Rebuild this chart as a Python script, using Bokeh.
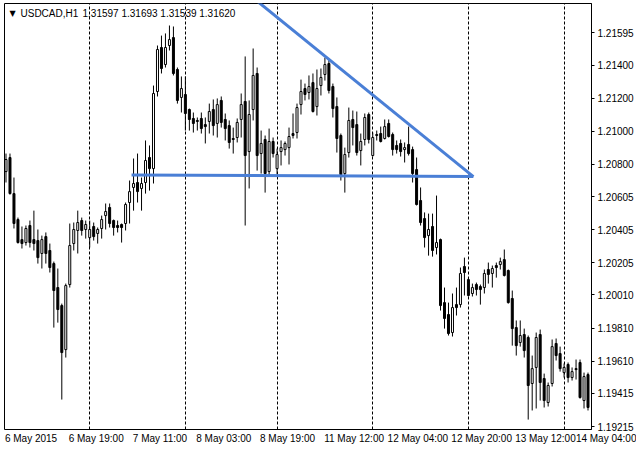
from bokeh.plotting import figure
from bokeh.models import (ColumnDataSource, FixedTicker, PrintfTickFormatter, Label, Grid,
                          Range1d, CustomJSTickFormatter)
from bokeh.embed import file_html
from bokeh.resources import INLINE

# ---- data (USDCAD H1 candles, bar index 0 = 6 May 2015 03:00) ----
OPEN = [1.20756, 1.20841, 1.20623, 1.20466, 1.20345, 1.20327, 1.20430, 1.20345, 1.20339, 1.20261,
        1.20363, 1.20279, 1.20200, 1.20055, 1.19946, 1.19680, 1.20073, 1.20321, 1.20400, 1.20460,
        1.20406, 1.20357, 1.20424, 1.20382, 1.20412, 1.20490, 1.20539, 1.20460, 1.20430, 1.20436,
        1.20442, 1.20569, 1.20660, 1.20690, 1.20654, 1.20690, 1.20841, 1.20774, 1.21240, 1.21506,
        1.21403, 1.21518, 1.21566, 1.21373, 1.21204, 1.21222, 1.21131, 1.21077, 1.21065, 1.21077,
        1.21040, 1.21059, 1.21131, 1.21047, 1.21186, 1.21071, 1.21034, 1.20956, 1.20962, 1.21071,
        1.21180, 1.20877, 1.21131, 1.21349, 1.20865, 1.20950, 1.20756, 1.20938, 1.20774, 1.20877,
        1.20889, 1.20901, 1.20986, 1.20992, 1.21161, 1.21258, 1.21234, 1.21294, 1.21149, 1.21276,
        1.21343, 1.21409, 1.21270, 1.21149, 1.20974, 1.20744, 1.20871, 1.21071, 1.21040, 1.20883,
        1.20950, 1.21101, 1.20853, 1.20980, 1.20986, 1.20956, 1.21047, 1.20980, 1.20914, 1.20926,
        1.20889, 1.20920, 1.20889, 1.20768, 1.20581, 1.20472, 1.20369, 1.20424, 1.20297, 1.20345,
        1.19964, 1.19892, 1.19783, 1.19952, 1.19952, 1.20182, 1.20103, 1.20019, 1.20073, 1.20061,
        1.20055, 1.20164, 1.20140, 1.20188, 1.20194, 1.20224, 1.20158, 1.19989, 1.19813, 1.19723,
        1.19771, 1.19753, 1.19475, 1.19572, 1.19771, 1.19505, 1.19360, 1.19475, 1.19717, 1.19656,
        1.19541, 1.19590, 1.19511, 1.19565, 1.19602, 1.19372, 1.19529]
HIGH = [1.20865, 1.20865, 1.20720, 1.20478, 1.20424, 1.20430, 1.20460, 1.20520, 1.20406, 1.20369,
        1.20388, 1.20321, 1.20212, 1.20170, 1.19958, 1.20079, 1.20442, 1.20448, 1.20520, 1.20478,
        1.20460, 1.20460, 1.20448, 1.20418, 1.20490, 1.20563, 1.20563, 1.20466, 1.20460, 1.20442,
        1.20569, 1.20702, 1.20835, 1.20865, 1.20720, 1.20944, 1.20914, 1.21276, 1.21518, 1.21578,
        1.21591, 1.21639, 1.21633, 1.21385, 1.21331, 1.21331, 1.21137, 1.21113, 1.21083, 1.21113,
        1.21083, 1.21167, 1.21192, 1.21198, 1.21210, 1.21107, 1.21065, 1.21022, 1.21077, 1.21228,
        1.21452, 1.21186, 1.21500, 1.21385, 1.21004, 1.20974, 1.21016, 1.20962, 1.20895, 1.20944,
        1.20938, 1.21022, 1.21107, 1.21167, 1.21312, 1.21288, 1.21337, 1.21349, 1.21373, 1.21379,
        1.21445, 1.21439, 1.21288, 1.21204, 1.20986, 1.20901, 1.21143, 1.21125, 1.21119, 1.20986,
        1.21107, 1.21113, 1.20992, 1.21004, 1.21028, 1.21071, 1.21071, 1.20992, 1.20944, 1.20950,
        1.20932, 1.21028, 1.20907, 1.20841, 1.20660, 1.20509, 1.20502, 1.20502, 1.20611, 1.20351,
        1.20055, 1.19964, 1.20019, 1.20055, 1.20176, 1.20236, 1.20115, 1.20079, 1.20085, 1.20073,
        1.20164, 1.20206, 1.20188, 1.20206, 1.20236, 1.20285, 1.20164, 1.20037, 1.19856, 1.19856,
        1.19807, 1.19765, 1.19644, 1.19783, 1.19801, 1.19535, 1.19481, 1.19741, 1.19747, 1.19698,
        1.19596, 1.19602, 1.19572, 1.19620, 1.19620, 1.19541, 1.19541]
LOW = [1.20690, 1.20617, 1.20412, 1.20321, 1.20291, 1.20309, 1.20297, 1.20279, 1.20200, 1.20170,
       1.20200, 1.20146, 1.19813, 1.19843, 1.19378, 1.19632, 1.20055, 1.20279, 1.20261, 1.20369,
       1.20351, 1.20297, 1.20339, 1.20321, 1.20351, 1.20406, 1.20418, 1.20369, 1.20388, 1.20327,
       1.20400, 1.20442, 1.20520, 1.20569, 1.20520, 1.20623, 1.20641, 1.20684, 1.21210, 1.21349,
       1.21385, 1.21488, 1.21337, 1.21167, 1.21113, 1.21004, 1.21004, 1.20992, 1.21004, 1.20986,
       1.20926, 1.20986, 1.20974, 1.20962, 1.21022, 1.20944, 1.20895, 1.20865, 1.20932, 1.20962,
       1.20430, 1.20654, 1.21065, 1.20762, 1.20744, 1.20629, 1.20732, 1.20841, 1.20738, 1.20793,
       1.20853, 1.20799, 1.20956, 1.20956, 1.21101, 1.21186, 1.21192, 1.21113, 1.21095, 1.21216,
       1.21306, 1.21228, 1.21083, 1.20871, 1.20702, 1.20629, 1.20841, 1.20914, 1.20853, 1.20793,
       1.20914, 1.20926, 1.20847, 1.20944, 1.20932, 1.20950, 1.20962, 1.20853, 1.20865, 1.20847,
       1.20811, 1.20853, 1.20690, 1.20551, 1.20430, 1.20297, 1.20248, 1.20242, 1.20255, 1.19916,
       1.19807, 1.19765, 1.19759, 1.19886, 1.19934, 1.20007, 1.20001, 1.20001, 1.20007, 1.19952,
       1.20019, 1.20079, 1.20055, 1.20115, 1.20164, 1.20122, 1.19958, 1.19704, 1.19644, 1.19698,
       1.19632, 1.19257, 1.19312, 1.19324, 1.19372, 1.19330, 1.19336, 1.19457, 1.19614, 1.19547,
       1.19511, 1.19481, 1.19493, 1.19499, 1.19384, 1.19324, 1.19312]
CLOSE = [1.20829, 1.20623, 1.20442, 1.20327, 1.20321, 1.20412, 1.20327, 1.20321, 1.20236, 1.20345,
         1.20261, 1.20176, 1.20037, 1.19922, 1.19662, 1.20067, 1.20309, 1.20406, 1.20448, 1.20400,
         1.20436, 1.20406, 1.20363, 1.20406, 1.20466, 1.20515, 1.20442, 1.20418, 1.20418, 1.20418,
         1.20557, 1.20635, 1.20684, 1.20635, 1.20684, 1.20823, 1.20774, 1.21228, 1.21494, 1.21379,
         1.21506, 1.21554, 1.21349, 1.21186, 1.21258, 1.21107, 1.21071, 1.21047, 1.21059, 1.21016,
         1.21028, 1.21119, 1.21034, 1.21161, 1.21053, 1.21016, 1.20932, 1.20950, 1.21053, 1.21161,
         1.20853, 1.21101, 1.21337, 1.20853, 1.20926, 1.20744, 1.20938, 1.20865, 1.20859, 1.20901,
         1.20926, 1.20968, 1.20974, 1.21143, 1.21240, 1.21222, 1.21270, 1.21119, 1.21258, 1.21325,
         1.21403, 1.21246, 1.21137, 1.20956, 1.20738, 1.20859, 1.21065, 1.21022, 1.20871, 1.20938,
         1.21083, 1.20950, 1.20962, 1.20974, 1.20938, 1.21028, 1.20968, 1.20889, 1.20889, 1.20877,
         1.20901, 1.20865, 1.20744, 1.20557, 1.20448, 1.20357, 1.20406, 1.20279, 1.20327, 1.19946,
         1.19868, 1.19777, 1.19934, 1.19934, 1.20140, 1.20146, 1.20007, 1.20055, 1.20043, 1.20043,
         1.20140, 1.20134, 1.20170, 1.20176, 1.20212, 1.20128, 1.19964, 1.19807, 1.19704, 1.19765,
         1.19674, 1.19463, 1.19565, 1.19753, 1.19481, 1.19372, 1.19463, 1.19698, 1.19644, 1.19565,
         1.19572, 1.19511, 1.19547, 1.19559, 1.19390, 1.19517, 1.19330]

PRICE_LABELS = ["1.21595", "1.21400", "1.21200", "1.21000", "1.20800", "1.20605", "1.20405",
                "1.20205", "1.20010", "1.19810", "1.19610", "1.19415", "1.19215"]
TIME_LABELS = ["6 May 2015", "6 May 19:00", "7 May 11:00", "8 May 03:00", "8 May 19:00",
               "11 May 12:00", "12 May 04:00", "12 May 20:00", "13 May 12:00", "14 May 04:00"]
TIME_LABEL_BARS = [0, 16, 32, 48, 64, 80, 96, 112, 128, 144]
DAY_START_BARS = [21, 45, 68, 92, 116, 140]

# trend lines drawn on the chart (bar index, price)
RESIST_BARS = [62, 117.25]
RESIST_PRICES = [1.21806, 1.20726]
SUPPORT_BARS = [31.5, 117.25]
SUPPORT_PRICES = [1.20735, 1.20726]

HEADER_SYMBOL = "USDCAD,H1"
HEADER_OHLC = "1.31597 1.31693 1.31539 1.31620"

# ---- figure geometry ----
W, H = 636, 453
TOP, BOTTOM, LEFT, RIGHT = 3, 24, 4, 43
FRAME_W = W - LEFT - RIGHT
FRAME_H = H - TOP - BOTTOM
X0, X1 = -0.375, 146.875
PX_PER_BAR = FRAME_W / (X1 - X0)
FONT = "Liberation Sans"
FONT_PX = 10
# Arial/Liberation advance widths (em) to left-align the time labels at their bar
ADV = {" ": 0.278, "\u00a0": 0.278, ":": 0.278, "M": 0.833, "a": 0.556, "y": 0.5}


def text_px(s):
    return sum(ADV.get(ch, 0.556) for ch in s) * FONT_PX


def bar_px(b):
    return (b - X0) * PX_PER_BAR


tick_pos = []
tick_text = []
for b, t in zip(TIME_LABEL_BARS, TIME_LABELS):
    start_px = bar_px(b) - 1           # terminal draws the label just right of its bar
    centre = b + (text_px(t) / 2 - 1) / PX_PER_BAR
    if centre < X1:
        tick_pos.append(centre)
        tick_text.append(t)
    else:
        # label runs past the frame: keep its tick at the frame edge and pad it on the left
        edge = X1 - 0.001
        pad_px = 2 * (start_px - bar_px(edge)) + text_px(t)
        n_pad = max(0, round(pad_px / (ADV["\u00a0"] * FONT_PX))) + 3
        tick_pos.append(edge)
        tick_text.append("\u00a0" * n_pad + t)

p = figure(width=W, height=H, output_backend="svg", toolbar_location=None,
           x_range=Range1d(X0, X1), y_range=Range1d(1.19197, 1.21772),
           x_axis_location="below", y_axis_location="right",
           min_border_left=LEFT, min_border_right=RIGHT,
           min_border_top=TOP, min_border_bottom=BOTTOM,
           background_fill_color="white", border_fill_color="white")
p.outline_line_color = "black"
p.outline_line_width = 1
p.xgrid.visible = False
p.ygrid.visible = False
p.add_layout(Grid(dimension=0, ticker=FixedTicker(ticks=DAY_START_BARS),
                  grid_line_color="black", grid_line_dash="3 2", grid_line_width=1))

xa = p.xaxis[0]
xa.ticker = FixedTicker(ticks=tick_pos)
xa.formatter = CustomJSTickFormatter(args=dict(pos=tick_pos, labels=tick_text), code="""
    let best = 0;
    for (let i = 0; i < pos.length; i++) {
        if (Math.abs(pos[i] - tick) < Math.abs(pos[best] - tick)) best = i;
    }
    return labels[best];
""")
xa.axis_line_color = None
xa.major_tick_line_color = None
xa.minor_tick_line_color = None
xa.major_tick_in = 0
xa.major_tick_out = 0
xa.major_label_standoff = 3
xa.major_label_text_font = FONT
xa.major_label_text_font_size = f"{FONT_PX}px"
xa.major_label_text_color = "black"

ya = p.yaxis[0]
ya.ticker = FixedTicker(ticks=[float(s) for s in PRICE_LABELS])
ya.formatter = PrintfTickFormatter(format="%.5f")
ya.major_tick_in = 0
ya.major_tick_out = 3
ya.minor_tick_line_color = None
ya.axis_line_color = "black"
ya.major_tick_line_color = "black"
ya.major_label_standoff = 3
ya.major_label_text_font = FONT
ya.major_label_text_font_size = f"{FONT_PX}px"
ya.major_label_text_color = "black"

n = len(OPEN)
src = ColumnDataSource(dict(
    x=list(range(n)),
    h=HIGH, l=LOW,
    top=[max(o, c) for o, c in zip(OPEN, CLOSE)],
    bottom=[min(o, c) for o, c in zip(OPEN, CLOSE)],
    fill=["white" if c > o else "black" for o, c in zip(OPEN, CLOSE)],
))
p.segment(x0="x", y0="l", x1="x", y1="h", source=src, line_color="black", line_width=1)
p.vbar(x="x", top="top", bottom="bottom", width=0.5, source=src,
       fill_color="fill", line_color="black", line_width=1)

BLUE = "#4a7fd6"
p.line(RESIST_BARS, RESIST_PRICES, line_color=BLUE, line_width=3)
p.line(SUPPORT_BARS, SUPPORT_PRICES, line_color=BLUE, line_width=3)

hy = FRAME_H - 10
p.add_layout(Label(x=5, y=hy, x_units="screen", y_units="screen", text="\u25bc",
                   text_align="left", text_baseline="middle", text_font="DejaVu Sans",
                   text_font_size="8px", text_color="black"))
p.add_layout(Label(x=16, y=hy, x_units="screen", y_units="screen", text=HEADER_SYMBOL,
                   text_align="left", text_baseline="middle", text_font=FONT,
                   text_font_size=f"{FONT_PX}px", text_color="black"))
p.add_layout(Label(x=78, y=hy, x_units="screen", y_units="screen", text=HEADER_OHLC,
                   text_align="left", text_baseline="middle", text_font=FONT,
                   text_font_size=f"{FONT_PX}px", text_color="black"))

open("out.html", "w").write(file_html(p, INLINE))
